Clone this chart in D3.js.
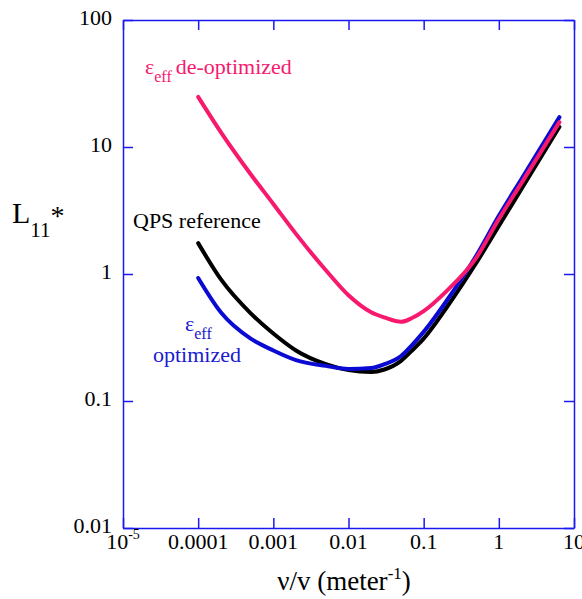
<!DOCTYPE html>
<html>
<head>
<meta charset="utf-8">
<script src="https://cdn.jsdelivr.net/npm/d3@7/dist/d3.min.js"></script>
<style>
  body { margin: 0; background: #fff; }
  text { font-family: "Liberation Serif", "Times New Roman", serif; }
</style>
</head>
<body>
<script>
// frequency ratio points (meter^-1), shared by the three curves
var nuValues = [1e-4, 2e-4, 5e-4, 1e-3, 2e-3, 5e-3, 0.01, 0.02, 0.03, 0.05, 0.07, 0.1, 0.2, 0.5, 1, 2, 6.4];

// L11* for each run
var deOptimized = [24.8, 13.1, 6.1, 3.56, 2.07, 1.07, 0.68, 0.50, 0.455, 0.42, 0.45, 0.51, 0.73, 1.34, 2.71, 5.2, 15.7];
var qpsReference = [1.75, 0.91, 0.49, 0.34, 0.25, 0.195, 0.175, 0.169, 0.177, 0.207, 0.25, 0.31, 0.54, 1.22, 2.39, 4.67, 14.4];
var optimized = [0.93, 0.50, 0.31, 0.25, 0.21, 0.189, 0.179, 0.182, 0.195, 0.226, 0.276, 0.35, 0.61, 1.39, 2.87, 5.6, 17.2];

var xTicks = [1e-5, 1e-4, 1e-3, 0.01, 0.1, 1, 10];
var xTickLabels = ["10^-5", "0.0001", "0.001", "0.01", "0.1", "1", "10"];
var yTicks = [0.01, 0.1, 1, 10, 100];
var yTickLabels = ["0.01", "0.1", "1", "10", "100"];

var width = 582, height = 599;
var plotLeft = 123, plotRight = 574, plotTop = 20, plotBottom = 528;
var frameColor = "#1a1af0";
var serif = "'Liberation Serif', 'Times New Roman', serif";

var svg = d3.select("body").append("svg")
    .attr("width", width)
    .attr("height", height)
    .attr("font-family", serif);

var x = d3.scaleLog().domain([1e-5, 10]).range([plotLeft, plotRight]);
var y = d3.scaleLog().domain([0.01, 100]).range([plotBottom, plotTop]);

// frame with inward ticks on all four sides
function styleAxis(g) {
    g.selectAll("path").attr("stroke", frameColor).attr("stroke-width", 1.5);
    g.selectAll("line").attr("stroke", frameColor).attr("stroke-width", 1.5);
    g.selectAll("text").remove();
}

svg.append("g").attr("transform", "translate(0," + plotBottom + ")")
    .call(d3.axisBottom(x).tickValues(xTicks).tickSize(-10).tickSizeOuter(0).tickFormat(""))
    .call(styleAxis);
svg.append("g").attr("transform", "translate(0," + plotTop + ")")
    .call(d3.axisTop(x).tickValues(xTicks).tickSize(-10).tickSizeOuter(0).tickFormat(""))
    .call(styleAxis);
svg.append("g").attr("transform", "translate(" + plotLeft + ",0)")
    .call(d3.axisLeft(y).tickValues(yTicks).tickSize(-10).tickSizeOuter(0).tickFormat(""))
    .call(styleAxis);
svg.append("g").attr("transform", "translate(" + plotRight + ",0)")
    .call(d3.axisRight(y).tickValues(yTicks).tickSize(-10).tickSizeOuter(0).tickFormat(""))
    .call(styleAxis);

// tick labels
var xl = svg.selectAll(".xlab")
    .data(xTicks)
    .enter().append("text")
    .attr("class", "xlab")
    .attr("x", function(d) { return x(d); })
    .attr("y", 549)
    .attr("text-anchor", "middle")
    .attr("font-size", 22)
    .attr("fill", "#000");
xl.each(function(d, i) {
    var parts = xTickLabels[i].split("^");
    var t = d3.select(this);
    t.append("tspan").text(parts[0]);
    if (parts.length > 1) {
        t.append("tspan").attr("font-size", 14).attr("dy", -10).text(parts[1]);
    }
});

svg.selectAll(".ylab")
    .data(yTicks)
    .enter().append("text")
    .attr("class", "ylab")
    .attr("x", 112)
    .attr("y", function(d) { return y(d) + 5; })
    .attr("text-anchor", "end")
    .attr("font-size", 22)
    .attr("fill", "#000")
    .text(function(d, i) { return yTickLabels[i]; });

// axis titles
var xt = svg.append("text")
    .attr("x", 344)
    .attr("y", 590)
    .attr("text-anchor", "middle")
    .attr("font-size", 27)
    .attr("fill", "#000");
xt.append("tspan").text("\u03bd/v (meter");
xt.append("tspan").attr("font-size", 17).attr("dy", -11).text("-1");
xt.append("tspan").attr("dy", 11).text(")");

var yt = svg.append("text")
    .attr("x", 12)
    .attr("y", 223)
    .attr("font-size", 30)
    .attr("fill", "#000");
yt.append("tspan").text("L");
yt.append("tspan").attr("font-size", 21).attr("dy", 14).text("11");
yt.append("tspan").attr("font-size", 28).attr("dy", -12).text("*");

// curves
var line = d3.line()
    .curve(d3.curveMonotoneX)
    .x(function(d) { return x(d[0]); })
    .y(function(d) { return y(d[1]); });

var series = [
    { values: qpsReference, color: "#000000" },
    { values: optimized, color: "#0a0ad2" },
    { values: deOptimized, color: "#f7196e" }
];

svg.selectAll(".curve")
    .data(series)
    .enter().append("path")
    .attr("class", "curve")
    .attr("fill", "none")
    .attr("stroke", function(d) { return d.color; })
    .attr("stroke-width", 4)
    .attr("stroke-linejoin", "round")
    .attr("stroke-linecap", "round")
    .attr("d", function(d) {
        return line(nuValues.map(function(v, i) { return [v, d.values[i]]; }));
    });

// curve labels
var pinkLab = svg.append("text")
    .attr("x", 145)
    .attr("y", 74)
    .attr("font-size", 22)
    .attr("fill", "#f7196e");
pinkLab.append("tspan").text("\u03b5");
pinkLab.append("tspan").attr("font-size", 16).attr("dy", 8).text("eff");
pinkLab.append("tspan").attr("dy", -8).attr("dx", 4).text("de-optimized");

svg.append("text")
    .attr("x", 133)
    .attr("y", 228)
    .attr("font-size", 22)
    .attr("fill", "#000")
    .text("QPS reference");

var blueLab = svg.append("text")
    .attr("x", 185)
    .attr("y", 331)
    .attr("font-size", 22)
    .attr("fill", "#1a1ad0");
blueLab.append("tspan").text("\u03b5");
blueLab.append("tspan").attr("font-size", 16).attr("dy", 8).text("eff");

svg.append("text")
    .attr("x", 153)
    .attr("y", 362)
    .attr("font-size", 22)
    .attr("fill", "#1a1ad0")
    .text("optimized");
</script>
</body>
</html>
